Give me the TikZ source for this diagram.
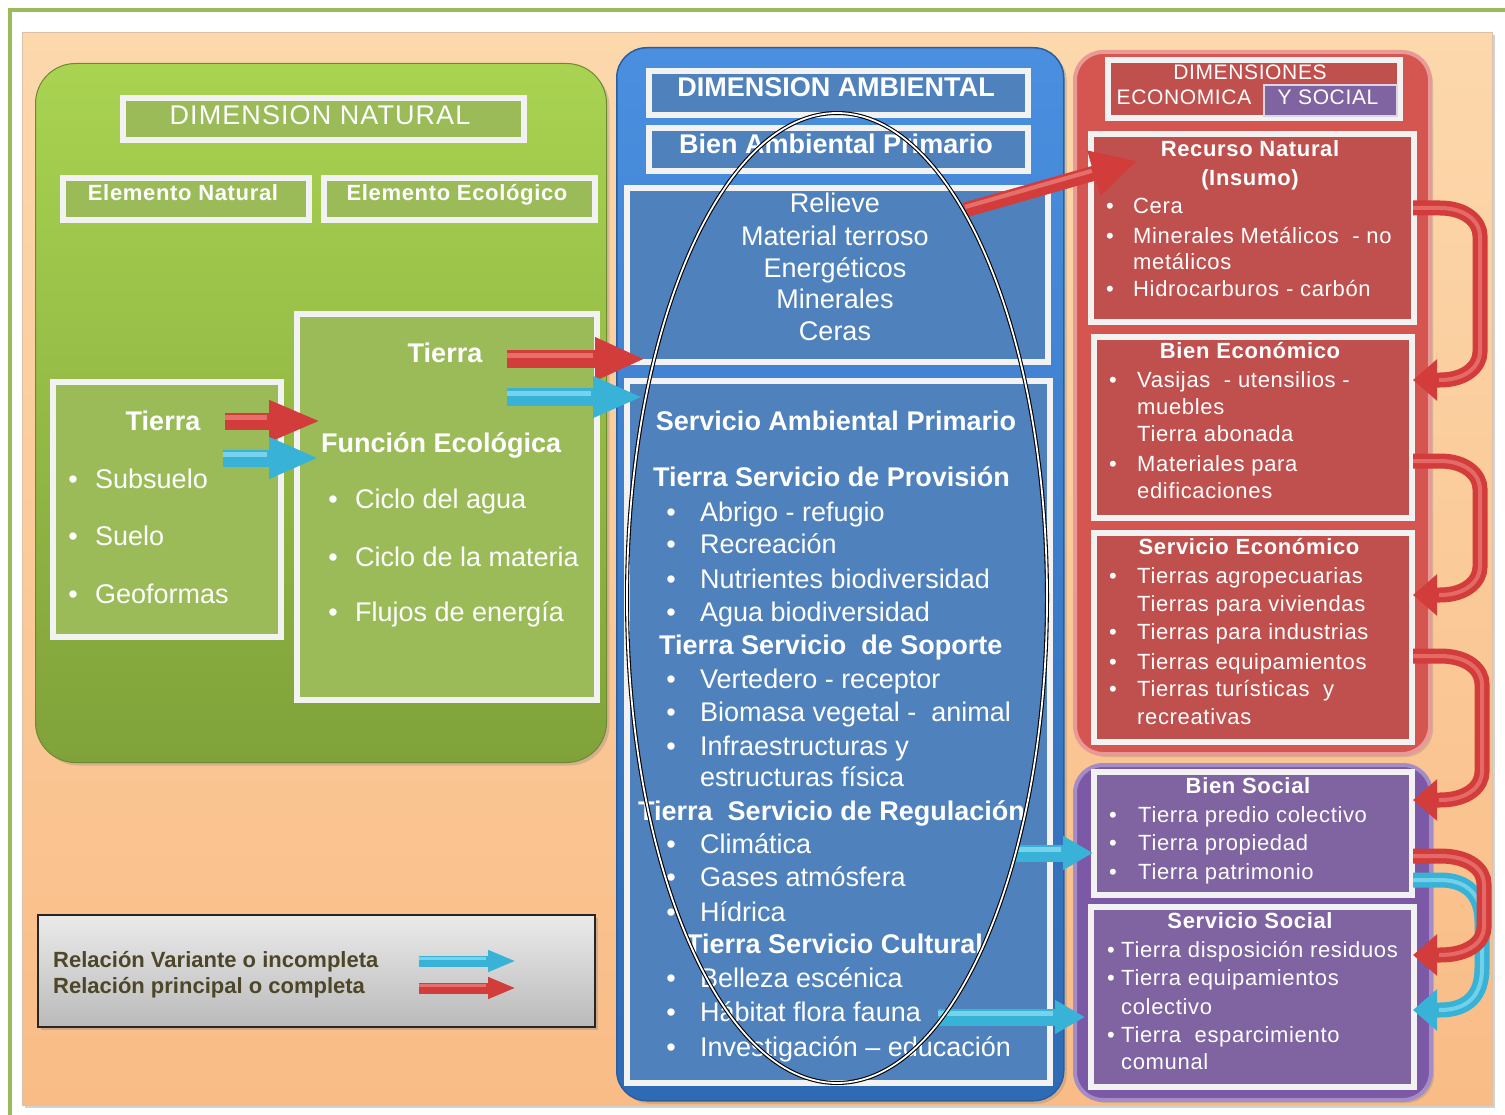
\documentclass[tikz,border=0pt]{standalone}
\usepackage{fontspec}
\setmainfont{Liberation Sans}
\usetikzlibrary{arrows.meta,shadows,calc}
\definecolor{frameG}{HTML}{9BBB59}
\definecolor{orTop}{HTML}{FCD8AC}
\definecolor{orBot}{HTML}{F9BC86}
\definecolor{gTop}{HTML}{A9D351}
\definecolor{gBot}{HTML}{80A23A}
\definecolor{gBox}{HTML}{9BBB59}
\definecolor{bTop}{HTML}{4A8FE0}
\definecolor{bBot}{HTML}{2F6AB4}
\definecolor{bEdge}{HTML}{2B5E9E}
\definecolor{bBox}{HTML}{4F81BD}
\definecolor{rPan}{HTML}{D55551}
\definecolor{rEdge}{HTML}{E99A96}
\definecolor{rBox}{HTML}{C0504D}
\definecolor{pPan}{HTML}{7B59A6}
\definecolor{pEdge}{HTML}{A48CC6}
\definecolor{pBox}{HTML}{8064A2}
\definecolor{arrR}{HTML}{D23C3A}
\definecolor{arrRl}{HTML}{F28A86}
\definecolor{arrC}{HTML}{38B2D6}
\definecolor{arrCl}{HTML}{9AE6F7}
\definecolor{boxW}{HTML}{F2F2F2}
\definecolor{legTxt}{HTML}{4E4628}
\newcommand\sarrow[7]{%
 \draw[line width=#5pt, draw=#1, -{Triangle[length=#6pt,width=#7pt]}] (#3) -- (#4);
 \draw[line width={0.28*#5}, draw=#2, opacity=0.65, shorten >={#6+2}, transform canvas={yshift={0.2*#5}}] (#3) -- (#4);
}
\begin{document}
\begin{tikzpicture}[x=1pt,y=-1pt,
 every node/.style={inner sep=0pt},
 wbox/.style={draw=boxW, line width=6pt, anchor=north west, inner sep=0pt,
   drop shadow={shadow xshift=2pt, shadow yshift=-2pt, opacity=0.3}},
 txtL/.style={font=\fontsize{27pt}{32pt}\selectfont, text height=19.5pt, text depth=0pt, text=white},
 txtT/.style={font=\fontsize{27pt}{32pt}\selectfont\addfontfeatures{LetterSpace=4}, text height=19.5pt, text depth=0pt, text=white},
 txtLB/.style={font=\bfseries\fontsize{27pt}{32pt}\selectfont, text height=19.5pt, text depth=0pt, text=white},
 txtS/.style={font=\fontsize{22pt}{26pt}\selectfont\addfontfeatures{LetterSpace=3}, text height=15.9pt, text depth=0pt, text=white},
 txtSB/.style={font=\bfseries\fontsize{22pt}{26pt}\selectfont\addfontfeatures{LetterSpace=3}, text height=15.9pt, text depth=0pt, text=white},
 txtH/.style={font=\fontsize{21pt}{25pt}\selectfont\addfontfeatures{LetterSpace=3}, text height=15.1pt, text depth=0pt, text=white},
 txtLg/.style={font=\bfseries\fontsize{22pt}{25pt}\selectfont, text height=15.8pt, text depth=0pt, text=legTxt},
 atw/.style={anchor=west},
 tubeR/.style={line width=15pt, draw=arrR, -{Triangle[length=24pt,width=40pt]}},
 tubeC/.style={line width=15pt, draw=arrC, -{Triangle[length=24pt,width=40pt]}},
 tubeHL/.style={line width=4pt, shorten >=26pt, opacity=0.6}
]
\useasboundingbox (0,0) rectangle (1505,1115);
\fill[white] (0,0) rectangle (1505,1115);
\draw[frameG, line width=4pt] (10,1118) -- (10,10) -- (1508,10);

% panels
\node[anchor=north west, minimum width=1470pt, minimum height=1073pt, top color=orTop, bottom color=orBot,
  draw=orBot!80!black!60, line width=0.8pt, drop shadow={shadow xshift=3pt, shadow yshift=-3pt, opacity=0.35}] (orange) at (22,32) {};
\node[anchor=north west, minimum width=571pt, minimum height=699pt, rounded corners=40pt, top color=gTop, bottom color=gBot,
  draw=gBot!85!black, line width=1pt, drop shadow={shadow xshift=3pt, shadow yshift=-3pt, opacity=0.3}] (green) at (35,63) {};
\node[anchor=north west, minimum width=447pt, minimum height=1053pt, rounded corners=30pt, top color=bTop, bottom color=bBot,
  draw=bEdge, line width=1.5pt, drop shadow={shadow xshift=3pt, shadow yshift=-3pt, opacity=0.3}] (blue) at (616,47) {};
\node[anchor=north west, minimum width=355pt, minimum height=702pt, rounded corners=28pt, fill=rPan,
  draw=rEdge, line width=4pt, drop shadow={shadow xshift=3pt, shadow yshift=-3pt, opacity=0.3}] (red) at (1073,50) {};
\node[anchor=north west, minimum width=356pt, minimum height=335pt, rounded corners=28pt, fill=pPan,
  draw=pEdge, line width=4pt, drop shadow={shadow xshift=3pt, shadow yshift=-3pt, opacity=0.3}] (purple) at (1073,763) {};

% boxes
\node[wbox, fill=gBox, minimum width=401pt, minimum height=42pt] (dimnat) at (120,95) {};
\node[wbox, fill=gBox, minimum width=246pt, minimum height=42pt] (elnat) at (60,175) {};
\node[wbox, fill=gBox, minimum width=271pt, minimum height=42pt] (eleco) at (321,175) {};
\node[wbox, fill=gBox, minimum width=228pt, minimum height=255pt] (tierraA) at (50,379) {};
\node[wbox, fill=gBox, minimum width=300pt, minimum height=386pt] (tierraB) at (294,311) {};
\node[wbox, fill=bBox, minimum width=379pt, minimum height=44pt] (dimamb) at (646,68) {};
\node[wbox, fill=bBox, minimum width=379pt, minimum height=43pt] (bienamb) at (646,125) {};
\node[wbox, fill=bBox, minimum width=421pt, minimum height=174pt] (relieve) at (624,185) {};
\node[wbox, fill=bBox, minimum width=423pt, minimum height=702pt] (servamb) at (624,378) {};
\node[wbox, fill=rBox, minimum width=292pt, minimum height=58pt] (econhdr) at (1105,57) {};
\node[anchor=north west, fill=pBox, draw=boxW!80!pBox, line width=2pt, minimum width=133pt, minimum height=31pt] (ysoc) at (1263,84) {};
\node[wbox, fill=rBox, minimum width=323pt, minimum height=188pt] (recurso) at (1088,131) {};
\node[wbox, fill=rBox, minimum width=318pt, minimum height=181pt] (bieneco) at (1091,334) {};
\node[wbox, fill=rBox, minimum width=318pt, minimum height=209pt] (serveco) at (1091,530) {};
\node[wbox, fill=pBox, minimum width=318pt, minimum height=123pt] (biensoc) at (1091,769) {};
\node[wbox, fill=pBox, minimum width=323pt, minimum height=180pt] (servsoc) at (1088,904) {};
\node[anchor=north west, minimum width=557pt, minimum height=112pt, top color=black!8, bottom color=black!27,
  draw=black!85, line width=1.5pt, drop shadow={shadow xshift=3pt, shadow yshift=-3pt, opacity=0.35}] (legend) at (37,914) {};

% green texts
\node[txtT] (t01) at (320,115) {DIMENSION NATURAL};
\node[txtSB] (t02) at (183,193) {Elemento Natural};
\node[txtSB] (t03) at (457,193) {Elemento Ecológico};
\node[txtLB] (t04) at (163,421) {Tierra};
\node[txtL] (b01) at (73,479) {•};
\node[txtL] (b02) at (73,536) {•};
\node[txtL] (b03) at (73,594) {•};
\node[txtL, atw] (t05) at (95,479) {Subsuelo};
\node[txtL, atw] (t06) at (95,536) {Suelo};
\node[txtL, atw] (t07) at (95,594) {Geoformas};
\node[txtLB] (t08) at (445,353) {Tierra};
\node[txtLB, atw] (t09) at (321,443) {Función Ecológica};
\node[txtL] (b04) at (333,499) {•};
\node[txtL] (b05) at (333,557) {•};
\node[txtL] (b06) at (333,612) {•};
\node[txtL, atw] (t10) at (355,499) {Ciclo del agua};
\node[txtL, atw] (t11) at (355,557) {Ciclo de la materia};
\node[txtL, atw] (t12) at (355,612) {Flujos de energía};

% blue texts
\node[txtLB] (t13) at (836,87) {DIMENSION AMBIENTAL};
\node[txtLB] (t14) at (836,144) {Bien Ambiental Primario};
\node[txtL] (t15) at (835,203) {Relieve};
\node[txtL] (t16) at (835,236) {Material terroso};
\node[txtL] (t17) at (835,268) {Energéticos};
\node[txtL] (t18) at (835,299) {Minerales};
\node[txtL] (t19) at (835,331) {Ceras};
\node[txtLB] (t20) at (836,421) {Servicio Ambiental Primario};
\node[txtLB, atw] (t21) at (653,477) {Tierra Servicio de Provisión};
\node[txtLB, atw] (t22) at (659,645) {Tierra Servicio\ \ de Soporte};
\node[txtLB, atw] (t23) at (638,811) {Tierra\ \ Servicio de Regulación};
\node[txtLB, atw] (t24) at (686,944) {Tierra Servicio Cultural};
\foreach \yy/\nm in {512/b07,544/b08,579/b09,612/b10,679/b11,712/b12,746/b13,844/b14,877/b15,912/b16,978/b17,1012/b18,1047/b19}
  \node[txtL] (\nm) at (671,\yy) {•};
\node[txtL, atw] (t25) at (700,512) {Abrigo - refugio};
\node[txtL, atw] (t26) at (700,544) {Recreación};
\node[txtL, atw] (t27) at (700,579) {Nutrientes biodiversidad};
\node[txtL, atw] (t28) at (700,612) {Agua biodiversidad};
\node[txtL, atw] (t29) at (700,679) {Vertedero - receptor};
\node[txtL, atw] (t30) at (700,712) {Biomasa vegetal -\ \ animal};
\node[txtL, atw] (t31) at (700,746) {Infraestructuras y};
\node[txtL, atw] (t32) at (700,777) {estructuras física};
\node[txtL, atw] (t33) at (700,844) {Climática};
\node[txtL, atw] (t34) at (700,877) {Gases atmósfera};
\node[txtL, atw] (t35) at (700,912) {Hídrica};
\node[txtL, atw] (t36) at (700,978) {Belleza escénica};
\node[txtL, atw] (t37) at (700,1012) {Hábitat flora fauna};
\node[txtL, atw] (t38) at (700,1047) {Investigación – educación};

% red / purple texts
\node[txtH] (t39) at (1250,72) {DIMENSIONES};
\node[txtH] (t40) at (1184,97) {ECONOMICA};
\node[txtH] (t41) at (1328,97) {Y SOCIAL};
\node[txtSB] (t42) at (1250,149) {Recurso Natural};
\node[txtSB] (t43) at (1250,178) {(Insumo)};
\foreach \yy/\nm in {206/b20,236/b21,289/b22}
  \node[txtS] (\nm) at (1110,\yy) {•};
\node[txtS, atw] (t44) at (1133,206) {Cera};
\node[txtS, atw] (t45) at (1133,236) {Minerales Metálicos\ \ - no};
\node[txtS, atw] (t46) at (1133,262) {metálicos};
\node[txtS, atw] (t47) at (1133,289) {Hidrocarburos - carbón};
\node[txtSB] (t48) at (1250,351) {Bien Económico};
\foreach \yy/\nm in {380/b23,464/b24}
  \node[txtS] (\nm) at (1113,\yy) {•};
\node[txtS, atw] (t49) at (1137,380) {Vasijas\ \ - utensilios -};
\node[txtS, atw] (t50) at (1137,407) {muebles};
\node[txtS, atw] (t51) at (1137,434) {Tierra abonada};
\node[txtS, atw] (t52) at (1137,464) {Materiales para};
\node[txtS, atw] (t53) at (1137,491) {edificaciones};
\node[txtSB] (t54) at (1249,547) {Servicio Económico};
\foreach \yy/\nm in {576/b25,632/b26,662/b27,689/b28}
  \node[txtS] (\nm) at (1113,\yy) {•};
\node[txtS, atw] (t55) at (1137,576) {Tierras agropecuarias};
\node[txtS, atw] (t56) at (1137,604) {Tierras para viviendas};
\node[txtS, atw] (t57) at (1137,632) {Tierras para industrias};
\node[txtS, atw] (t58) at (1137,662) {Tierras equipamientos};
\node[txtS, atw] (t59) at (1137,689) {Tierras turísticas\ \ y};
\node[txtS, atw] (t60) at (1137,717) {recreativas};
\node[txtSB] (t61) at (1248,786) {Bien Social};
\foreach \yy/\nm in {815/b29,843/b30,872/b31}
  \node[txtS] (\nm) at (1113,\yy) {•};
\node[txtS, atw] (t62) at (1138,815) {Tierra predio colectivo};
\node[txtS, atw] (t63) at (1138,843) {Tierra propiedad};
\node[txtS, atw] (t64) at (1138,872) {Tierra patrimonio};
\node[txtSB] (t65) at (1250,921) {Servicio Social};
\foreach \yy/\nm in {950/b32,978/b33,1035/b34}
  \node[txtS] (\nm) at (1111,\yy) {•};
\node[txtS, atw] (t66) at (1121,950) {Tierra disposición residuos};
\node[txtS, atw] (t67) at (1121,978) {Tierra equipamientos};
\node[txtS, atw] (t68) at (1121,1007) {colectivo};
\node[txtS, atw] (t69) at (1121,1035) {Tierra\ \ esparcimiento};
\node[txtS, atw] (t70) at (1121,1062) {comunal};

% legend
\node[txtLg, atw] (t71) at (53,960) {Relación Variante o incompleta};
\node[txtLg, atw] (t72) at (53,986) {Relación principal o completa};

% arrow end points
\coordinate (a1s) at (225,421); \coordinate (a1e) at (321,421);
\coordinate (a2s) at (223,458); \coordinate (a2e) at (319,458);
\coordinate (a3s) at (507,359); \coordinate (a3e) at (645,359);
\coordinate (a4s) at (507,397); \coordinate (a4e) at (643,397);
\coordinate (a5s) at (965,210); \coordinate (a5e) at (1137,161);
\coordinate (a6s) at (1015,853); \coordinate (a6e) at (1093,853);
\coordinate (a7s) at (938,1017); \coordinate (a7e) at (1085,1017);
\coordinate (l1s) at (419,961); \coordinate (l1e) at (516,961);
\coordinate (l2s) at (419,988); \coordinate (l2e) at (516,988);

\sarrow{arrR}{arrRl}{a1s}{a1e}{17}{52}{38}
\sarrow{arrC}{arrCl}{a2s}{a2e}{17}{50}{38}
\sarrow{arrR}{arrRl}{a3s}{a3e}{18}{50}{40}
\sarrow{arrC}{arrCl}{a4s}{a4e}{18}{50}{38}
\sarrow{arrR}{arrRl}{a5s}{a5e}{15}{45}{44}
\sarrow{arrC}{arrCl}{a6s}{a6e}{17}{30}{32}
\sarrow{arrC}{arrCl}{a7s}{a7e}{17}{30}{32}
\sarrow{arrC}{arrCl}{l1s}{l1e}{11}{28}{20}
\sarrow{arrR}{arrRl}{l2s}{l2e}{11}{28}{20}

% ellipse
\draw[black, line width=1.1pt, double=white, double distance=1.8pt] (837,598) ellipse [x radius=210, y radius=485];

% curved arrows on the right
\coordinate (c1s) at (1413,208); \coordinate (c1e) at (1413,380);
\coordinate (c2s) at (1413,461); \coordinate (c2e) at (1413,595);
\coordinate (c3s) at (1413,656); \coordinate (c3e) at (1413,800);
\coordinate (c4s) at (1413,856); \coordinate (c4e) at (1413,955);
\coordinate (c5s) at (1413,880); \coordinate (c5e) at (1413,1010);
\draw[tubeC] (c5s) -- (1440,880) .. controls (1468,880) and (1482,896) .. (1482,922) -- (1482,968) .. controls (1482,995) and (1468,1010) .. (1440,1010) -- (c5e);
\draw[tubeHL, arrCl] (c5s) -- (1440,880) .. controls (1468,880) and (1482,896) .. (1482,922) -- (1482,968) .. controls (1482,995) and (1468,1010) .. (1440,1010) -- (c5e);
\foreach \p/\q/\ya/\yb/\xx in {c1s/c1e/208/380/1480, c2s/c2e/461/595/1480, c3s/c3e/656/800/1482, c4s/c4e/856/955/1484}{
  \draw[tubeR] (\p) -- (1440,\ya) .. controls ({\xx-14},\ya) and (\xx,{\ya+14}) .. (\xx,{\ya+28}) -- (\xx,{\yb-28}) .. controls (\xx,{\yb-14}) and ({\xx-14},\yb) .. (1440,\yb) -- (\q);
  \draw[tubeHL, arrRl] (\p) -- (1440,\ya) .. controls ({\xx-14},\ya) and (\xx,{\ya+14}) .. (\xx,{\ya+28}) -- (\xx,{\yb-28}) .. controls (\xx,{\yb-14}) and ({\xx-14},\yb) .. (1440,\yb) -- (\q);
}
\end{tikzpicture}
\end{document}
